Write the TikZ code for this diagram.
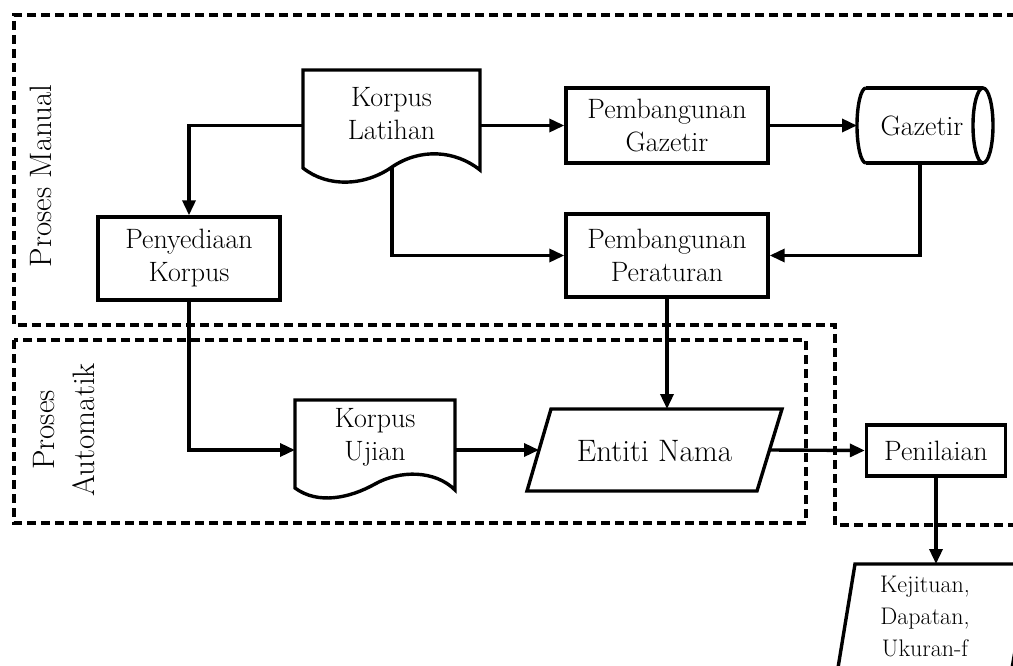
\documentclass[tikz,border=0pt]{standalone}
\usetikzlibrary{arrows.meta}
\begin{document}
\begin{tikzpicture}[x=1pt,y=-1pt,
  ln/.style={line width=3.4pt},
  dsh/.style={line width=3.6pt, dash pattern=on 9pt off 5pt},
  txt/.style={align=center, font=\fontsize{28}{33}\selectfont, inner sep=0pt},
  box/.style={draw, line width=3.4pt, align=center, inner sep=0pt, font=\fontsize{28}{33}\selectfont},
  arr/.style={line width=3.4pt, -{Triangle[length=15pt,width=13pt]}}
]
\useasboundingbox (0,0) rectangle (1013,666);
\clip (0,0) rectangle (1013,666);
% dashed regions
\draw[dsh] (1030,15) -- (14,15) -- (14,325) -- (835,325) -- (835,525) -- (1030,525);
\draw[dsh] (14,340) rectangle (806,523);
\node[txt, rotate=90, font=\fontsize{31}{38}\selectfont] (lm) at (41,176) {Proses Manual};
\node[txt, rotate=90, font=\fontsize{31}{40}\selectfont] (la) at (64,430) {Proses\\Automatik};

% rectangles
\node[box, minimum width=202pt, minimum height=75pt] (pg) at (667,125.5) {Pembangunan\\Gazetir};
\node[box, minimum width=202pt, minimum height=83pt] (pp) at (667,255.5) {Pembangunan\\Peraturan};
\node[box, minimum width=182pt, minimum height=83pt] (pk) at (189,258.5) {Penyediaan\\Korpus};
\node[box, minimum width=139pt, minimum height=51pt] (pn) at (936,450.5) {Penilaian};

% Korpus Latihan (document)
\draw[ln, fill=white, line join=miter] (303,168) -- (303,70) -- (480,70) -- (480,170)
  .. controls (455,150) and (420,148) .. (392,167)
  .. controls (365,186) and (328,188) .. (303,168) -- cycle;
\node[txt] (kl) at (391.5,114) {Korpus\\Latihan};
\coordinate (klW) at (303,125.5);
\coordinate (klE) at (480,125.5);
\coordinate (klS) at (392,167);

% Korpus Ujian (document)
\draw[ln, fill=white, line join=miter] (295,488) -- (295,400) -- (455,400) -- (455,490)
  .. controls (435,470) and (400,470) .. (375,484)
  .. controls (350,498) and (318,505) .. (295,488) -- cycle;
\node[txt] (ku) at (375,437) {Korpus\\Ujian};
\coordinate (kuW) at (295,450);
\coordinate (kuE) at (455,450);

% Gazetir (cylinder)
\draw[ln] (866,88) -- (983,88) (866,163) -- (983,163);
\draw[ln] (866,88) arc[start angle=270, end angle=90, x radius=9, y radius=37.5];
\draw[ln] (983,125.5) ellipse[x radius=10, y radius=37.5];
\node[txt] (gz) at (922,125.5) {Gazetir};
\coordinate (gzW) at (857,125.5);
\coordinate (gzS) at (920,163);

% Entiti Nama (parallelogram)
\draw[ln, line join=miter] (551,409) -- (782,409) -- (757,491) -- (527,491) -- cycle;
\node[txt, font=\fontsize{31}{36}\selectfont] (en) at (654.5,451) {Entiti Nama};
\coordinate (enW) at (539,450);
\coordinate (enE) at (770,450);
\coordinate (enN) at (667,409);

% Kejituan (parallelogram)
\draw[ln, line join=miter] (855,564) -- (1030,564) -- (1010,680) -- (836,680) -- cycle;
\node[txt, font=\fontsize{24}{32}\selectfont] (kj) at (925,616) {Kejituan,\\Dapatan,\\Ukuran-f};
\coordinate (kjN) at (936,564);

% connectors
\draw[arr] (klE) -- (pg.west);
\draw[arr] (pg.east) -- (gzW);
\draw[arr] (gzS) |- (pp.east);
\draw[arr] (klS) |- (pp.west);
\draw[arr] (klW) -| (pk.north);
\draw[arr] (pk.south) |- (kuW);
\draw[arr] (kuE) -- (enW);
\draw[arr] (pp.south) -- (enN);
\draw[arr] (enE) -- (pn.west);
\draw[arr] (pn.south) -- (kjN);
\end{tikzpicture}
\end{document}
